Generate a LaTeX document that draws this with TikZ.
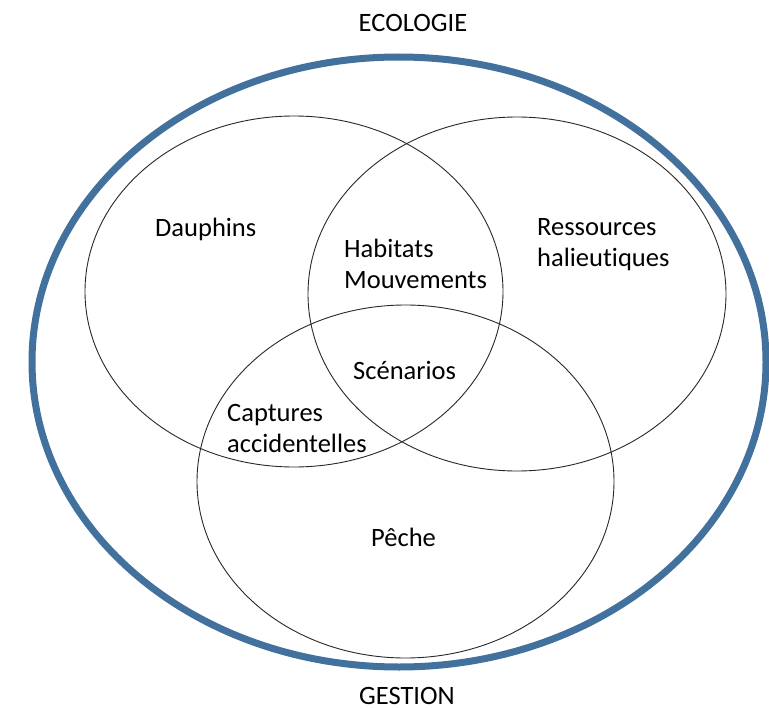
\documentclass[tikz,border=0pt]{standalone}
\usepackage{fontspec}
\setmainfont{Carlito}[Ligatures={NoCommon,NoContextual}]
\definecolor{bigblue}{RGB}{65,113,156}
\definecolor{thinline}{RGB}{40,40,40}
\begin{document}
\begin{tikzpicture}[x=1pt,y=-1pt,
  venn/.style={draw=thinline,line width=0.9pt},
  outer/.style={draw=bigblue,line width=7pt},
  lbl/.style={anchor=base west,inner sep=0pt,align=left,font=\fontsize{26.5}{31}\selectfont},
  ttl/.style={anchor=base,inner sep=0pt,font=\fontsize{26.5}{31}\selectfont}]
\useasboundingbox (0,0) rectangle (769,709);
\fill[white] (0,0) rectangle (769,709);
\coordinate (cbig) at (399,362);
\coordinate (cl) at (294,291.5);
\coordinate (cr) at (517,294);
\coordinate (cb) at (405.5,481.5);
\draw[outer] (cbig) ellipse [x radius=367pt, y radius=305pt];
\draw[venn] (cl) ellipse [x radius=209pt, y radius=175.5pt];
\draw[venn] (cr) ellipse [x radius=209pt, y radius=177pt];
\draw[venn] (cb) ellipse [x radius=208.5pt, y radius=176.5pt];
\node[ttl] (eco) at (413,32) {ECOLOGIE};
\node[ttl] (ges) at (407,704) {GESTION};
\node[lbl] (dau) at (155,236) {Dauphins};
\node[lbl] (hab) at (344,288) {Habitats\\Mouvements};
\node[lbl] (res) at (537,266) {Ressources\\halieutiques};
\node[lbl] (sce) at (353,379) {Scénarios};
\node[lbl] (cap) at (227,452) {Captures\\accidentelles};
\node[lbl] (pec) at (371,546) {Pêche};
\end{tikzpicture}
\end{document}
